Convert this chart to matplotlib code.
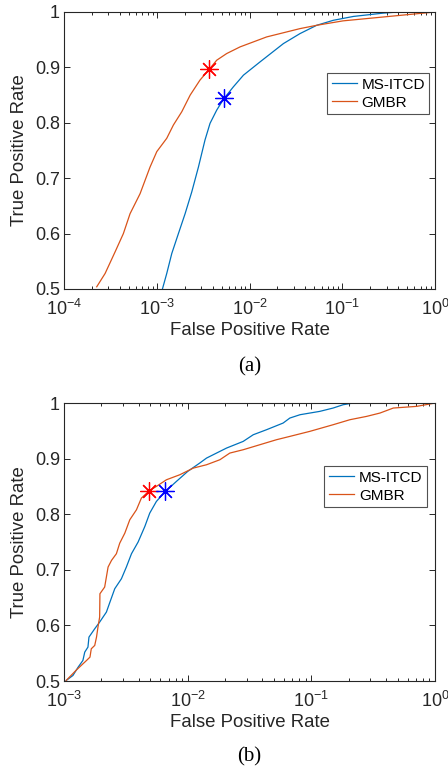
import numpy as np
import matplotlib as mpl; mpl.use('Agg')
import matplotlib.pyplot as plt
from matplotlib.ticker import LogLocator, NullFormatter

mpl.rcParams.update({'font.family': 'sans-serif', 'font.sans-serif': ['Liberation Sans', 'DejaVu Sans'],
                     'mathtext.fontset': 'custom', 'mathtext.rm': 'Liberation Sans',
                     'mathtext.it': 'Liberation Sans', 'mathtext.default': 'regular'})
BLUE = '#0072BD'; ORANGE = '#D95319'; AXC = '#262626'

# panel (a)
a_fpr_ms = [1.15e-3, 1.28e-3, 1.45e-3, 1.71e-3, 2.02e-3, 2.38e-3, 2.81e-3, 3.31e-3, 3.75e-3, 4.43e-3,
            5.31e-3, 6.7e-3, 8.6e-3, 1.30e-2, 2.32e-2, 3.5e-2, 5.3e-2, 8.0e-2, 0.132, 0.277, 0.40, 1.0]
a_tpr_ms = [0.500, 0.528, 0.564, 0.600, 0.636, 0.675, 0.720, 0.769, 0.799, 0.823,
            0.844, 0.865, 0.886, 0.910, 0.943, 0.961, 0.976, 0.985, 0.992, 0.998, 1.0, 1.0]
a_fpr_gm = [2.25e-4, 2.77e-4, 3.55e-4, 4.36e-4, 5.15e-4, 6.6e-4, 8.45e-4, 1.0e-3, 1.28e-3, 1.51e-3,
            1.86e-3, 2.29e-3, 2.92e-3, 3.69e-3, 4.43e-3, 5.67e-3, 7.9e-3, 1.53e-2, 3.5e-2, 5.3e-2,
            0.102, 0.277, 1.0]
a_tpr_gm = [0.504, 0.528, 0.567, 0.600, 0.636, 0.672, 0.720, 0.748, 0.772, 0.796,
            0.820, 0.850, 0.877, 0.897, 0.913, 0.925, 0.937, 0.955, 0.970, 0.976,
            0.984, 0.991, 1.0]
a_star_ms = (5.31e-3, 0.844)
a_star_gm = (3.69e-3, 0.898)

# panel (b)
b_fpr_ms = [1.04e-3, 1.18e-3, 1.30e-3, 1.42e-3, 1.47e-3, 1.56e-3, 1.59e-3, 1.77e-3, 1.94e-3, 2.20e-3,
            2.35e-3, 2.57e-3, 2.91e-3, 3.19e-3, 3.51e-3, 3.97e-3, 4.50e-3, 4.93e-3, 5.58e-3, 6.6e-3,
            8.1e-3, 1.0e-2, 1.25e-2, 1.42e-2, 1.71e-2, 2.06e-2, 2.81e-2, 3.39e-2, 4.34e-2, 5.91e-2,
            6.7e-2, 8.1e-2, 0.117, 0.150, 0.181, 0.218, 1.0]
b_tpr_ms = [0.501, 0.510, 0.525, 0.537, 0.552, 0.561, 0.579, 0.594, 0.606, 0.624,
            0.642, 0.666, 0.684, 0.705, 0.729, 0.750, 0.778, 0.802, 0.823, 0.841,
            0.859, 0.877, 0.892, 0.901, 0.910, 0.919, 0.931, 0.943, 0.952, 0.964,
            0.973, 0.979, 0.985, 0.991, 0.997, 1.0, 1.0]
b_fpr_gm = [1.04e-3, 1.26e-3, 1.52e-3, 1.62e-3, 1.66e-3, 1.77e-3, 1.83e-3, 1.88e-3, 1.94e-3, 1.95e-3,
            2.13e-3, 2.27e-3, 2.42e-3, 2.65e-3, 2.82e-3, 3.10e-3, 3.40e-3, 3.85e-3, 4.22e-3, 4.87e-3,
            5.58e-3, 6.73e-3, 8.63e-3, 1.11e-2, 1.42e-2, 1.82e-2, 2.19e-2, 2.81e-2, 3.83e-2, 5.22e-2,
            6.7e-2, 9.7e-2, 0.150, 0.205, 0.280, 0.359, 0.46, 0.711, 1.0]
b_tpr_gm = [0.501, 0.520, 0.537, 0.543, 0.558, 0.564, 0.579, 0.597, 0.615, 0.657,
            0.669, 0.705, 0.717, 0.729, 0.748, 0.766, 0.790, 0.808, 0.829, 0.842,
            0.850, 0.862, 0.871, 0.883, 0.889, 0.898, 0.910, 0.916, 0.925, 0.934,
            0.940, 0.949, 0.961, 0.970, 0.976, 0.982, 0.991, 0.994, 1.0]
b_star_ms = (6.6e-3, 0.841)
b_star_gm = (4.87e-3, 0.842)

yticks = [0.5, 0.6, 0.7, 0.8, 0.9, 1.0]
ylabels = ['0.5', '0.6', '0.7', '0.8', '0.9', '1']
asterisk = (8, 2, 0)

fig = plt.figure(figsize=(4.48, 7.69), dpi=100)
ax_a = fig.add_axes([0.143, 0.6242, 0.828, 0.3602])
ax_b = fig.add_axes([0.143, 0.1144, 0.828, 0.3615])

panels = [(ax_a, a_fpr_ms, a_tpr_ms, a_fpr_gm, a_tpr_gm, a_star_ms, a_star_gm, 1e-4, (0.985, 0.779), '(a)', -0.282),
          (ax_b, b_fpr_ms, b_tpr_ms, b_fpr_gm, b_tpr_gm, b_star_ms, b_star_gm, 1e-3, (0.978, 0.773), '(b)', -0.274)]

for ax, fm, tm, fg, tg, sm, sg, xmin, lpos, cap, capy in panels:
    ax.plot(fm, tm, color=BLUE, lw=0.9, label='MS-ITCD')
    ax.plot(fg, tg, color=ORANGE, lw=0.9, label='GMBR')
    ax.plot([sg[0]], [sg[1]], marker=asterisk, color='red', ms=13, mew=0.9, ls='none')
    ax.plot([sm[0]], [sm[1]], marker=asterisk, color='blue', ms=13, mew=0.9, ls='none')
    ax.set_xscale('log')
    ax.set_xlim(xmin, 1.0); ax.set_ylim(0.5, 1.0)
    ax.set_yticks(yticks); ax.set_yticklabels(ylabels)
    ax.xaxis.set_major_locator(LogLocator(base=10, numticks=10))
    ax.xaxis.set_minor_locator(LogLocator(base=10, subs=np.arange(2, 10), numticks=20))
    ax.xaxis.set_minor_formatter(NullFormatter())
    ax.tick_params(which='both', direction='in', top=True, right=True, color=AXC,
                   labelsize=13, labelcolor=AXC, width=0.7)
    ax.tick_params(which='major', length=4.5)
    ax.tick_params(which='minor', length=2.5)
    ax.tick_params(axis='x', which='major', pad=7)
    ax.tick_params(axis='y', which='major', pad=3)
    for s in ax.spines.values():
        s.set_color(AXC); s.set_linewidth(0.8)
    ax.set_xlabel('False Positive Rate', fontsize=13.4, color=AXC, labelpad=2)
    ax.set_ylabel('True Positive Rate', fontsize=13.4, color=AXC, labelpad=5)
    leg = ax.legend(loc='upper right', bbox_to_anchor=lpos, fontsize=11, frameon=True, fancybox=False,
                    handlelength=1.65, handletextpad=0.3, borderpad=0.3, labelspacing=0.25,
                    borderaxespad=0)
    leg.get_frame().set_edgecolor(AXC); leg.get_frame().set_linewidth(0.8)
    ax.text(0.5, capy, cap, transform=ax.transAxes, ha='center', va='center',
            fontsize=15, family='Liberation Serif', color='black')

fig.savefig('out.png', dpi=100)
